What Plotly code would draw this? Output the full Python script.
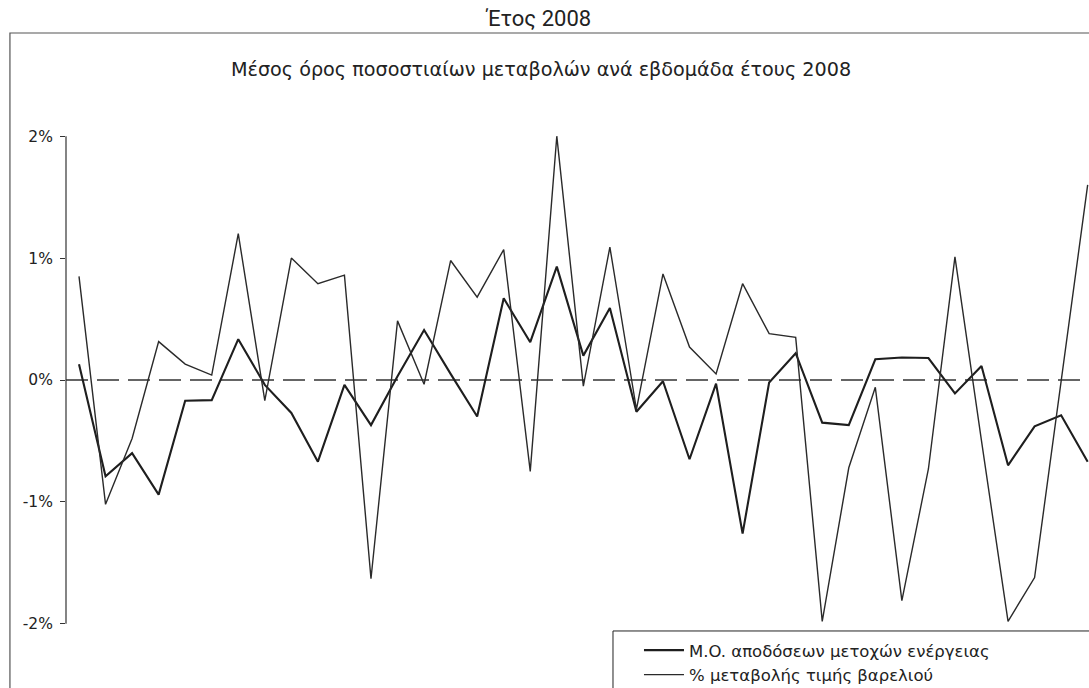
import plotly.graph_objects as go

# Weekly observations for 2008 (week index along x)
weeks = list(range(39))

# Average weekly % return of energy stocks
energy_stocks = [0.13, -0.79, -0.60, -0.94, -0.17, -0.165, 0.335, -0.04, -0.27, -0.67,
                 -0.04, -0.37, 0.03, 0.41, 0.05, -0.30, 0.67, 0.31, 0.93, 0.20,
                 0.59, -0.26, -0.01, -0.65, -0.03, -1.26, -0.02, 0.22, -0.35, -0.37,
                 0.17, 0.185, 0.18, -0.11, 0.115, -0.70, -0.38, -0.29, -0.67]

# Weekly % change of the oil barrel price
oil_price = [0.85, -1.02, -0.48, 0.315, 0.13, 0.04, 1.20, -0.17, 1.00, 0.79,
             0.86, -1.63, 0.485, -0.035, 0.98, 0.68, 1.07, -0.75, 2.00, -0.05,
             1.09, -0.24, 0.87, 0.27, 0.05, 0.79, 0.38, 0.35, -1.98, -0.72,
             -0.06, -1.81, -0.73, 1.01, -0.50, -1.98, -1.62, 0.00, 1.60]

tick_vals = [2, 1, 0, -1, -2]
tick_text = ["2%", "1%", "0%", "-1%", "-2%"]

names = ["M.O. αποδόσεων μετοχών ενέργειας", "% μεταβολής τιμής βαρελιού"]

fig = go.Figure()
fig.add_trace(go.Scatter(x=weeks, y=energy_stocks, mode="lines", name=names[0],
                         line=dict(color="#1e1e1e", width=2.1)))
fig.add_trace(go.Scatter(x=weeks, y=oil_price, mode="lines", name=names[1],
                         line=dict(color="#2a2a2a", width=1.4)))

# Dashed zero reference line
fig.add_shape(type="line", xref="paper", yref="y", x0=0, x1=1, y0=0, y1=0,
              line=dict(color="#333333", width=1.4, dash="22px,9px"), layer="below")
# Vertical value axis from -2% to 2%
fig.add_shape(type="line", xref="paper", yref="y", x0=0, x1=0, y0=-2, y1=2,
              line=dict(color="#333333", width=1.2))
# Outer chart frame
fig.add_shape(type="rect", xref="paper", yref="paper", x0=-0.0548, x1=1.05, y0=-0.2, y1=1.1777,
              line=dict(color="#555555", width=1.2), layer="below")
# Legend frame
fig.add_shape(type="rect", xref="paper", yref="paper", x0=0.5347, x1=1.05, y0=-0.2, y1=0.0098,
              line=dict(color="#222222", width=1), fillcolor="white", layer="above")

fig.add_annotation(text="Έτος 2008", xref="paper", yref="paper", x=0.4615, y=1.207,
                   showarrow=False, xanchor="center", yanchor="middle",
                   font=dict(family="Liberation Sans Narrow, Roboto, sans-serif", size=22, color="#222"))
fig.add_annotation(text="Μέσος όρος ποσοστιαίων μεταβολών ανά εβδομάδα έτους 2008",
                   xref="paper", yref="paper", x=0.4645, y=1.107,
                   showarrow=False, xanchor="center", yanchor="middle",
                   font=dict(family="DejaVu Sans, sans-serif", size=19.2, color="#222"))

fig.update_layout(
    width=1089, height=688,
    margin=dict(l=66, r=0, t=124, b=52, autoexpand=False),
    paper_bgcolor="white", plot_bgcolor="white",
    showlegend=True,
    legend=dict(x=0.5601, y=0.006, xanchor="left", yanchor="top",
                bgcolor="rgba(0,0,0,0)", borderwidth=0,
                font=dict(family="DejaVu Sans, sans-serif", size=16.5, color="#222"),
                itemwidth=40, tracegroupgap=0),
    xaxis=dict(range=[-0.49, 38.05], showgrid=False, zeroline=False, showline=False,
               showticklabels=False, ticks=""),
    yaxis=dict(range=[-2.1, 2.1], tickvals=tick_vals, ticktext=tick_text,
               ticks="outside", ticklen=5, tickcolor="#333", tickwidth=1.2,
               showgrid=False, zeroline=False, showline=False, ticklabelstandoff=4,
               tickfont=dict(family="DejaVu Sans, sans-serif", size=15.5, color="#222")),
)

fig.write_html("out.html")
